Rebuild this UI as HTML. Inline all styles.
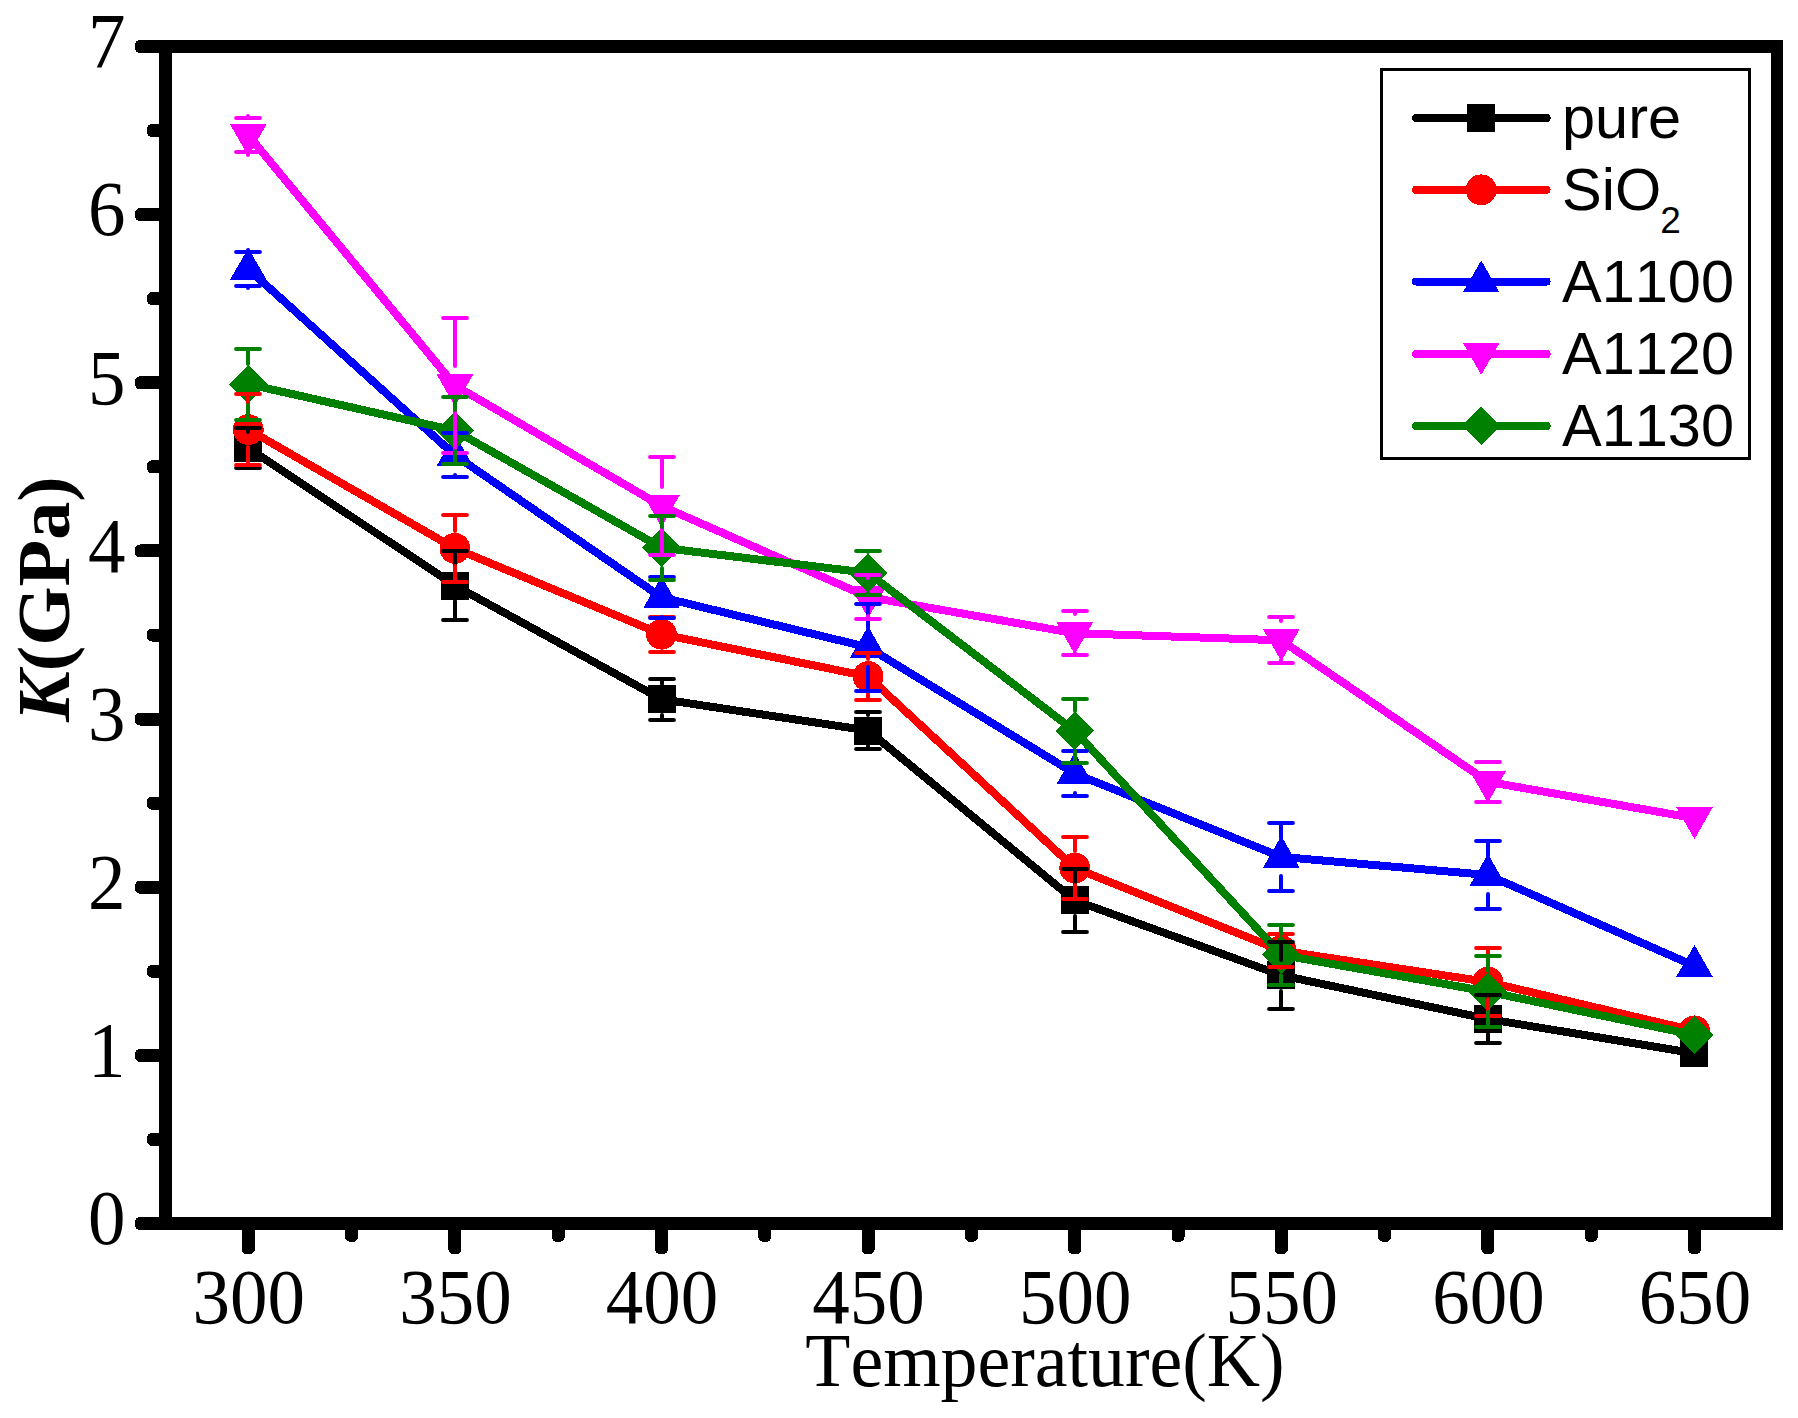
<!DOCTYPE html>
<html lang="en"><head><meta charset="utf-8"><title>K(GPa) vs Temperature(K)</title>
<style>
html,body{margin:0;padding:0;background:#fff;}
body{width:1798px;height:1418px;overflow:hidden;}
svg{display:block;}
.tk{font-family:"Liberation Serif","Times New Roman",serif;font-size:75px;fill:#000;font-kerning:none;}
.ttl{font-family:"Liberation Serif","Times New Roman",serif;font-size:75px;fill:#000;font-kerning:none;}
.lg{font-family:"Liberation Sans",Arial,sans-serif;font-size:59.5px;fill:#000;font-kerning:none;}
</style></head><body>
<svg width="1798" height="1418" viewBox="0 0 1798 1418">
<rect x="0" y="0" width="1798" height="1418" fill="#fff"/>
<g id="plots" shape-rendering="crispEdges">
<path d="M255.63 452.88L447.57 580.62M462.61 589.74L653.79 694.96M670.20 700.52L859.40 729.18M874.90 736.09L1067.90 894.81M1082.97 903.40L1273.03 972.30M1289.91 977.12L1479.29 1017.18M1496.58 1020.44L1685.82 1051.86" stroke="#000000" stroke-width="8.0" fill="none"/>
<rect x="234" y="434" width="28" height="28" fill="#000000"/>
<rect x="441" y="572" width="28" height="28" fill="#000000"/>
<rect x="648" y="685" width="28" height="28" fill="#000000"/>
<rect x="854" y="717" width="28" height="28" fill="#000000"/>
<rect x="1061" y="886" width="28" height="28" fill="#000000"/>
<rect x="1267" y="961" width="28" height="28" fill="#000000"/>
<rect x="1474" y="1005" width="28" height="28" fill="#000000"/>
<rect x="1680" y="1039" width="28" height="28" fill="#000000"/>
<path d="M255.93 433.94L447.27 544.01M463.03 551.78L653.37 630.82M670.12 635.97L859.48 674.73M874.55 682.48L1068.25 862.02M1082.87 871.27L1273.13 947.33M1290.00 951.92L1479.20 980.68M1496.46 984.02L1685.94 1028.78" stroke="#ff0000" stroke-width="8.0" fill="none"/>
<circle cx="248.30" cy="429.55" r="15.4" fill="#ff0000"/>
<circle cx="454.90" cy="548.40" r="15.4" fill="#ff0000"/>
<circle cx="661.50" cy="634.20" r="15.4" fill="#ff0000"/>
<circle cx="868.10" cy="676.50" r="15.4" fill="#ff0000"/>
<circle cx="1074.70" cy="868.00" r="15.4" fill="#ff0000"/>
<circle cx="1281.30" cy="950.60" r="15.4" fill="#ff0000"/>
<circle cx="1487.90" cy="982.00" r="15.4" fill="#ff0000"/>
<circle cx="1694.50" cy="1030.80" r="15.4" fill="#ff0000"/>
<path d="M254.84 274.94L448.36 449.31M462.15 460.19L654.25 592.31M670.05 599.37L859.55 645.23M875.61 651.89L1067.19 768.91M1082.86 776.79L1273.14 853.61M1290.07 857.67L1479.13 874.23M1495.95 878.55L1686.45 962.45" stroke="#0000ff" stroke-width="8.0" fill="none"/>
<polygon points="248.30,247.95 266.60,279.85 230.00,279.85" fill="#0000ff"/>
<polygon points="454.90,434.10 473.20,466.00 436.60,466.00" fill="#0000ff"/>
<polygon points="661.50,576.20 679.80,608.10 643.20,608.10" fill="#0000ff"/>
<polygon points="868.10,626.20 886.40,658.10 849.80,658.10" fill="#0000ff"/>
<polygon points="1074.70,752.40 1093.00,784.30 1056.40,784.30" fill="#0000ff"/>
<polygon points="1281.30,835.80 1299.60,867.70 1263.00,867.70" fill="#0000ff"/>
<polygon points="1487.90,853.90 1506.20,885.80 1469.60,885.80" fill="#0000ff"/>
<polygon points="1694.50,944.90 1712.80,976.80 1676.20,976.80" fill="#0000ff"/>
<path d="M253.90 141.94L449.30 378.61M462.50 389.84L653.90 501.56M669.55 509.55L860.05 593.45M876.77 598.52L1066.03 631.68M1083.49 633.50L1272.51 640.00M1288.56 645.27L1480.64 776.83M1496.57 783.33L1685.83 816.67" stroke="#ff00ff" stroke-width="8.0" fill="none"/>
<polygon points="248.30,156.15 266.60,124.15 230.00,124.15" fill="#ff00ff"/>
<polygon points="454.90,406.40 473.20,374.40 436.60,374.40" fill="#ff00ff"/>
<polygon points="661.50,527.00 679.80,495.00 643.20,495.00" fill="#ff00ff"/>
<polygon points="868.10,618.00 886.40,586.00 849.80,586.00" fill="#ff00ff"/>
<polygon points="1074.70,654.20 1093.00,622.20 1056.40,622.20" fill="#ff00ff"/>
<polygon points="1281.30,661.30 1299.60,629.30 1263.00,629.30" fill="#ff00ff"/>
<polygon points="1487.90,802.80 1506.20,770.80 1469.60,770.80" fill="#ff00ff"/>
<polygon points="1694.50,839.20 1712.80,807.20 1676.20,807.20" fill="#ff00ff"/>
<path d="M256.89 386.13L446.31 428.67M462.56 434.94L653.84 543.36M670.24 548.77L859.36 571.83M875.09 578.25L1067.71 725.65M1080.67 737.47L1275.33 948.43M1289.96 956.44L1479.24 990.16M1496.51 993.51L1685.89 1033.19" stroke="#008000" stroke-width="8.0" fill="none"/>
<polygon points="248.30,364.90 267.60,384.20 248.30,403.50 229.00,384.20" fill="#008000"/>
<polygon points="454.90,411.30 474.20,430.60 454.90,449.90 435.60,430.60" fill="#008000"/>
<polygon points="661.50,528.40 680.80,547.70 661.50,567.00 642.20,547.70" fill="#008000"/>
<polygon points="868.10,553.60 887.40,572.90 868.10,592.20 848.80,572.90" fill="#008000"/>
<polygon points="1074.70,711.70 1094.00,731.00 1074.70,750.30 1055.40,731.00" fill="#008000"/>
<polygon points="1281.30,935.60 1300.60,954.90 1281.30,974.20 1262.00,954.90" fill="#008000"/>
<polygon points="1487.90,972.40 1507.20,991.70 1487.90,1011.00 1468.60,991.70" fill="#008000"/>
<polygon points="1694.50,1015.70 1713.80,1035.00 1694.50,1054.30 1675.20,1035.00" fill="#008000"/>
</g>
<g id="errs" fill="none" stroke-linecap="round">
<path d="M236.1 428H259.9M236.1 468H259.9M248 428V432M248 464V468M443.1 551H466.9M443.1 620H466.9M455 551V570M455 601V620M650.1 679H673.9M650.1 720H673.9M662 679V684M662 715V720M856.1 712H879.9M856.1 749H879.9M868 712V715M868 746V749M1063.1 869H1086.9M1063.1 932H1086.9M1075 869V885M1075 916V932M1269.1 942H1292.9M1269.1 1009H1292.9M1281 942V960M1281 991V1009M1476.1 995H1499.9M1476.1 1043H1499.9M1488 995V1004M1488 1034V1043" stroke="#000000" stroke-width="4.0"/>
<path d="M236.1 394H259.9M236.1 465H259.9M248 394V412M248 447V465M443.1 515H466.9M443.1 582H466.9M455 515V531M455 566V582M650.1 617H673.9M650.1 652H673.9M662 617V617M662 651V652M856.1 653H879.9M856.1 700H879.9M868 653V659M868 694V700M1063.1 837H1086.9M1063.1 899H1086.9M1075 837V851M1075 885V899M1269.1 934H1292.9M1269.1 967H1292.9M1281 934V933M1281 968V967M1476.1 948H1499.9M1476.1 1016H1499.9M1488 948V965M1488 999V1016" stroke="#ff0000" stroke-width="4.0"/>
<path d="M236.1 252H259.9M236.1 286H259.9M248 252V250M248 288V286M443.1 433H466.9M443.1 477H466.9M455 433V436M455 475V477M650.1 577H673.9M650.1 618H673.9M662 577V578M662 617V618M856.1 604H879.9M856.1 691H879.9M868 604V628M868 667V691M1063.1 751H1086.9M1063.1 796H1086.9M1075 751V754M1075 793V796M1269.1 823H1292.9M1269.1 891H1292.9M1281 823V838M1281 876V891M1476.1 841H1499.9M1476.1 909H1499.9M1488 841V856M1488 894V909" stroke="#0000ff" stroke-width="4.0"/>
<path d="M236.1 118H259.9M236.1 152H259.9M248 118V116M248 155V152M443.1 318H466.9M443.1 453H466.9M455 318V366M455 405V453M650.1 457H673.9M650.1 555H673.9M662 457V487M662 525V555M856.1 575H879.9M856.1 619H879.9M868 575V578M868 616V619M1063.1 611H1086.9M1063.1 655H1086.9M1075 611V614M1075 653V655M1269.1 617H1292.9M1269.1 663H1292.9M1281 617V621M1281 660V663M1476.1 762H1499.9M1476.1 802H1499.9M1488 762V762M1488 801V802" stroke="#ff00ff" stroke-width="4.0"/>
<path d="M236.1 349H259.9M236.1 420H259.9M248 349V364M248 405V420M443.1 397H466.9M443.1 464H466.9M455 397V410M455 451V464M650.1 516H673.9M650.1 580H673.9M662 516V527M662 568V580M856.1 551H879.9M856.1 595H879.9M868 551V552M868 593V595M1063.1 699H1086.9M1063.1 763H1086.9M1075 699V711M1075 751V763M1269.1 925H1292.9M1269.1 985H1292.9M1281 925V934M1281 975V985M1476.1 956H1499.9M1476.1 1027H1499.9M1488 956V971M1488 1012V1027" stroke="#008000" stroke-width="4.0"/>
</g>
<g id="axes" shape-rendering="crispEdges" stroke="#000" fill="none">
<path d="M159 40H1783V1230H159ZM172 53V1217H1771V53Z" fill="#000" stroke="none" fill-rule="evenodd"/>
<rect x="135.0" y="1217.00" width="30.5" height="13.0" rx="5" ry="5" fill="#000" stroke="none"/>
<rect x="147.0" y="1132.93" width="18.5" height="13.0" rx="5" ry="5" fill="#000" stroke="none"/>
<rect x="135.0" y="1048.86" width="30.5" height="13.0" rx="5" ry="5" fill="#000" stroke="none"/>
<rect x="147.0" y="964.79" width="18.5" height="13.0" rx="5" ry="5" fill="#000" stroke="none"/>
<rect x="135.0" y="880.71" width="30.5" height="13.0" rx="5" ry="5" fill="#000" stroke="none"/>
<rect x="147.0" y="796.64" width="18.5" height="13.0" rx="5" ry="5" fill="#000" stroke="none"/>
<rect x="135.0" y="712.57" width="30.5" height="13.0" rx="5" ry="5" fill="#000" stroke="none"/>
<rect x="147.0" y="628.50" width="18.5" height="13.0" rx="5" ry="5" fill="#000" stroke="none"/>
<rect x="135.0" y="544.43" width="30.5" height="13.0" rx="5" ry="5" fill="#000" stroke="none"/>
<rect x="147.0" y="460.36" width="18.5" height="13.0" rx="5" ry="5" fill="#000" stroke="none"/>
<rect x="135.0" y="376.29" width="30.5" height="13.0" rx="5" ry="5" fill="#000" stroke="none"/>
<rect x="147.0" y="292.21" width="18.5" height="13.0" rx="5" ry="5" fill="#000" stroke="none"/>
<rect x="135.0" y="208.14" width="30.5" height="13.0" rx="5" ry="5" fill="#000" stroke="none"/>
<rect x="147.0" y="124.07" width="18.5" height="13.0" rx="5" ry="5" fill="#000" stroke="none"/>
<rect x="135.0" y="40.00" width="30.5" height="13.0" rx="5" ry="5" fill="#000" stroke="none"/>
<rect x="241.80" y="1223.5" width="13.0" height="30.70" rx="5" ry="5" fill="#000" stroke="none"/>
<rect x="345.10" y="1223.5" width="13.0" height="18.30" rx="5" ry="5" fill="#000" stroke="none"/>
<rect x="448.40" y="1223.5" width="13.0" height="30.70" rx="5" ry="5" fill="#000" stroke="none"/>
<rect x="551.70" y="1223.5" width="13.0" height="18.30" rx="5" ry="5" fill="#000" stroke="none"/>
<rect x="655.00" y="1223.5" width="13.0" height="30.70" rx="5" ry="5" fill="#000" stroke="none"/>
<rect x="758.30" y="1223.5" width="13.0" height="18.30" rx="5" ry="5" fill="#000" stroke="none"/>
<rect x="861.60" y="1223.5" width="13.0" height="30.70" rx="5" ry="5" fill="#000" stroke="none"/>
<rect x="964.90" y="1223.5" width="13.0" height="18.30" rx="5" ry="5" fill="#000" stroke="none"/>
<rect x="1068.20" y="1223.5" width="13.0" height="30.70" rx="5" ry="5" fill="#000" stroke="none"/>
<rect x="1171.50" y="1223.5" width="13.0" height="18.30" rx="5" ry="5" fill="#000" stroke="none"/>
<rect x="1274.80" y="1223.5" width="13.0" height="30.70" rx="5" ry="5" fill="#000" stroke="none"/>
<rect x="1378.10" y="1223.5" width="13.0" height="18.30" rx="5" ry="5" fill="#000" stroke="none"/>
<rect x="1481.40" y="1223.5" width="13.0" height="30.70" rx="5" ry="5" fill="#000" stroke="none"/>
<rect x="1584.70" y="1223.5" width="13.0" height="18.30" rx="5" ry="5" fill="#000" stroke="none"/>
<rect x="1688.00" y="1223.5" width="13.0" height="30.70" rx="5" ry="5" fill="#000" stroke="none"/>
</g>
<g id="ticklabels" class="tk">
<text transform="translate(125.6 1244.2) scale(1 1.04)" text-anchor="end">0</text>
<text transform="translate(125.6 1076.1) scale(1 1.04)" text-anchor="end">1</text>
<text transform="translate(125.6 907.9) scale(1 1.04)" text-anchor="end">2</text>
<text transform="translate(125.6 739.8) scale(1 1.04)" text-anchor="end">3</text>
<text transform="translate(125.6 571.6) scale(1 1.04)" text-anchor="end">4</text>
<text transform="translate(125.6 403.5) scale(1 1.04)" text-anchor="end">5</text>
<text transform="translate(125.6 235.3) scale(1 1.04)" text-anchor="end">6</text>
<text transform="translate(125.6 67.2) scale(1 1.04)" text-anchor="end">7</text>
<text transform="translate(248.8 1322.7) scale(1 1.04)" text-anchor="middle">300</text>
<text transform="translate(455.4 1322.7) scale(1 1.04)" text-anchor="middle">350</text>
<text transform="translate(662.0 1322.7) scale(1 1.04)" text-anchor="middle">400</text>
<text transform="translate(868.6 1322.7) scale(1 1.04)" text-anchor="middle">450</text>
<text transform="translate(1075.2 1322.7) scale(1 1.04)" text-anchor="middle">500</text>
<text transform="translate(1281.8 1322.7) scale(1 1.04)" text-anchor="middle">550</text>
<text transform="translate(1488.4 1322.7) scale(1 1.04)" text-anchor="middle">600</text>
<text transform="translate(1695.0 1322.7) scale(1 1.04)" text-anchor="middle">650</text>
</g>
<text class="ttl" transform="translate(1045 1385.9) scale(1 1.018)" style="font-size:73.8px" text-anchor="middle">Temperature(K)</text>
<text class="ttl" transform="translate(68.8 599.2) rotate(-90) scale(1 0.975)" style="font-size:76.3px" text-anchor="middle" font-weight="bold"><tspan font-style="italic">K</tspan>(GPa)</text>
<g id="legend">
<rect x="1381.5" y="69.5" width="368" height="389" fill="#fff" stroke="#000" stroke-width="3" shape-rendering="crispEdges"/>
<g shape-rendering="crispEdges"><path d="M1416 117.9H1546.6" stroke="#000000" stroke-width="8.0" stroke-linecap="round"/><rect x="1467" y="104" width="28" height="28" fill="#000000"/></g>
<text class="lg" x="1562" y="138.4">pure</text>
<g shape-rendering="crispEdges"><path d="M1416 189.8H1546.6" stroke="#ff0000" stroke-width="8.0" stroke-linecap="round"/><circle cx="1481.20" cy="189.80" r="15.4" fill="#ff0000"/></g>
<text class="lg" x="1562" y="210.2">SiO<tspan style="font-size:37px" dx="-1" dy="23.2">2</tspan></text>
<g shape-rendering="crispEdges"><path d="M1416 281.5H1546.6" stroke="#0000ff" stroke-width="8.0" stroke-linecap="round"/><polygon points="1481.20,260.40 1499.50,292.30 1462.90,292.30" fill="#0000ff"/></g>
<text class="lg" x="1562" y="302.1">A1100</text>
<g shape-rendering="crispEdges"><path d="M1416 353.9H1546.6" stroke="#ff00ff" stroke-width="8.0" stroke-linecap="round"/><polygon points="1481.20,374.90 1499.50,342.90 1462.90,342.90" fill="#ff00ff"/></g>
<text class="lg" x="1562" y="373.9">A1120</text>
<g shape-rendering="crispEdges"><path d="M1416 425.9H1546.6" stroke="#008000" stroke-width="8.0" stroke-linecap="round"/><polygon points="1481.20,406.60 1500.50,425.90 1481.20,445.20 1461.90,425.90" fill="#008000"/></g>
<text class="lg" x="1562" y="446.0">A1130</text>
</g>
</svg></body></html>
